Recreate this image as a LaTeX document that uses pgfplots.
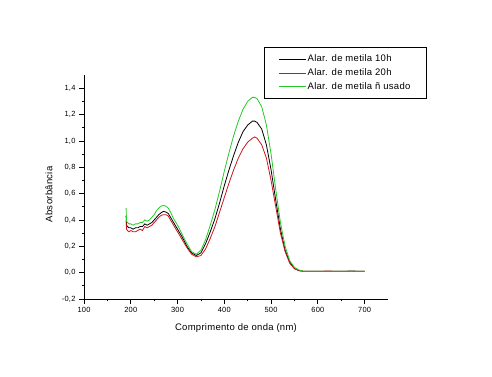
\documentclass[border=0pt]{standalone}
\usepackage{pgfplots}
\usepackage{pgfplotstable}
\pgfplotsset{compat=1.18}
\usepackage{fontspec}
\setmainfont[LetterSpace=3]{Liberation Sans}
\definecolor{cK}{RGB}{0,0,0}
\definecolor{cR}{RGB}{205,20,30}
\definecolor{cG}{RGB}{40,200,40}
\pgfplotstableread{
wl   K     R     G
190  0.43  0.39  0.49
191  0.36  0.33  0.39
193  0.35  0.32  0.38
196  0.34  0.31  0.37
200  0.34  0.32  0.37
205  0.33  0.31  0.36
210  0.34  0.31  0.37
215  0.34  0.32  0.37
220  0.35  0.33  0.38
225  0.35  0.32  0.38
230  0.37  0.35  0.40
235  0.36  0.34  0.39
240  0.37  0.35  0.40
245  0.38  0.36  0.42
250  0.40  0.38  0.44
255  0.42  0.40  0.47
260  0.44  0.42  0.49
265  0.455 0.435 0.505
270  0.465 0.44  0.51
275  0.46  0.44  0.505
280  0.45  0.43  0.49
285  0.42  0.40  0.46
290  0.39  0.37  0.42
300  0.33  0.31  0.36
310  0.27  0.25  0.29
320  0.20  0.19  0.22
330  0.15  0.14  0.16
340  0.13  0.12  0.14
350  0.15  0.13  0.17
360  0.22  0.18  0.25
370  0.31  0.26  0.36
380  0.41  0.35  0.48
390  0.53  0.46  0.62
400  0.66  0.57  0.77
410  0.78  0.68  0.91
420  0.89  0.78  1.04
430  0.99  0.87  1.15
440  1.07  0.94  1.24
450  1.12  0.99  1.30
460  1.15  1.02  1.33
465  1.15  1.03  1.33
470  1.14  1.02  1.32
480  1.09  0.97  1.26
490  0.97  0.87  1.12
500  0.78  0.70  0.90
510  0.55  0.50  0.63
520  0.33  0.30  0.38
530  0.17  0.16  0.20
540  0.08  0.07  0.09
550  0.03  0.03  0.04
560  0.015 0.015 0.02
570  0.01  0.01  0.01
580  0.01  0.01  0.01
600  0.01  0.01  0.01
620  0.01  0.012 0.01
650  0.01  0.01  0.01
670  0.012 0.01  0.01
700  0.01  0.01  0.01
}\spectra
\begin{document}
\begin{tikzpicture}[x=1pt,y=1pt]
\path[use as bounding box, fill=white] (0,0) rectangle (492,377);
\begin{axis}[
  at={(84pt,78pt)}, anchor=south west,
  scale only axis, width=304pt, height=224pt,
  xmin=100, xmax=750, ymin=-0.2, ymax=1.5,
  axis lines=left, axis line style={-, line width=0.8pt},
  xtick={100,200,...,700}, ytick={-0.2,0,...,1.4},
  minor x tick num=1, minor y tick num=1,
  tick align=outside, major tick length=5pt, minor tick length=2.5pt,
  tick style={line width=0.7pt, black},
  /pgf/number format/assume math mode=true,
  yticklabel style={/pgf/number format/.cd, fixed, fixed zerofill, precision=1, use comma},
  xticklabel style={/pgf/number format/.cd, fixed, precision=0},
  tick label style={font=\fontsize{7.5}{9}\selectfont},
  xlabel={Comprimento de onda (nm)},
  ylabel={Absorbância},
  every axis x label/.style={at={(axis description cs:0.5,0)}, anchor=north, yshift=-21pt, font=\fontsize{9.5}{11}\selectfont},
  every axis y label/.style={at={(axis description cs:0,0.467)}, anchor=center, rotate=90, yshift=35pt, font=\fontsize{9.5}{11}\selectfont},
  legend style={at={(0.592,1.125)}, anchor=north west, draw=black, line width=0.8pt,
    font=\fontsize{9.5}{11}\selectfont, inner xsep=14pt, inner ysep=6pt,
    row sep=2.5pt, nodes={inner sep=1.5pt}},
  legend cell align=left,
  legend image code/.code={\draw[#1, line width=0.8pt] (0pt,0pt) -- (27pt,0pt);},
]
\addplot[cK, line width=0.8pt] table[x=wl, y=K] {\spectra};
\addplot[cR, line width=0.8pt] table[x=wl, y=R] {\spectra};
\addplot[cG, line width=0.8pt] table[x=wl, y=G] {\spectra};
\legend{Alar. de metila 10h, Alar. de metila 20h, Alar. de metila ñ usado}
\end{axis}
\end{tikzpicture}
\end{document}
